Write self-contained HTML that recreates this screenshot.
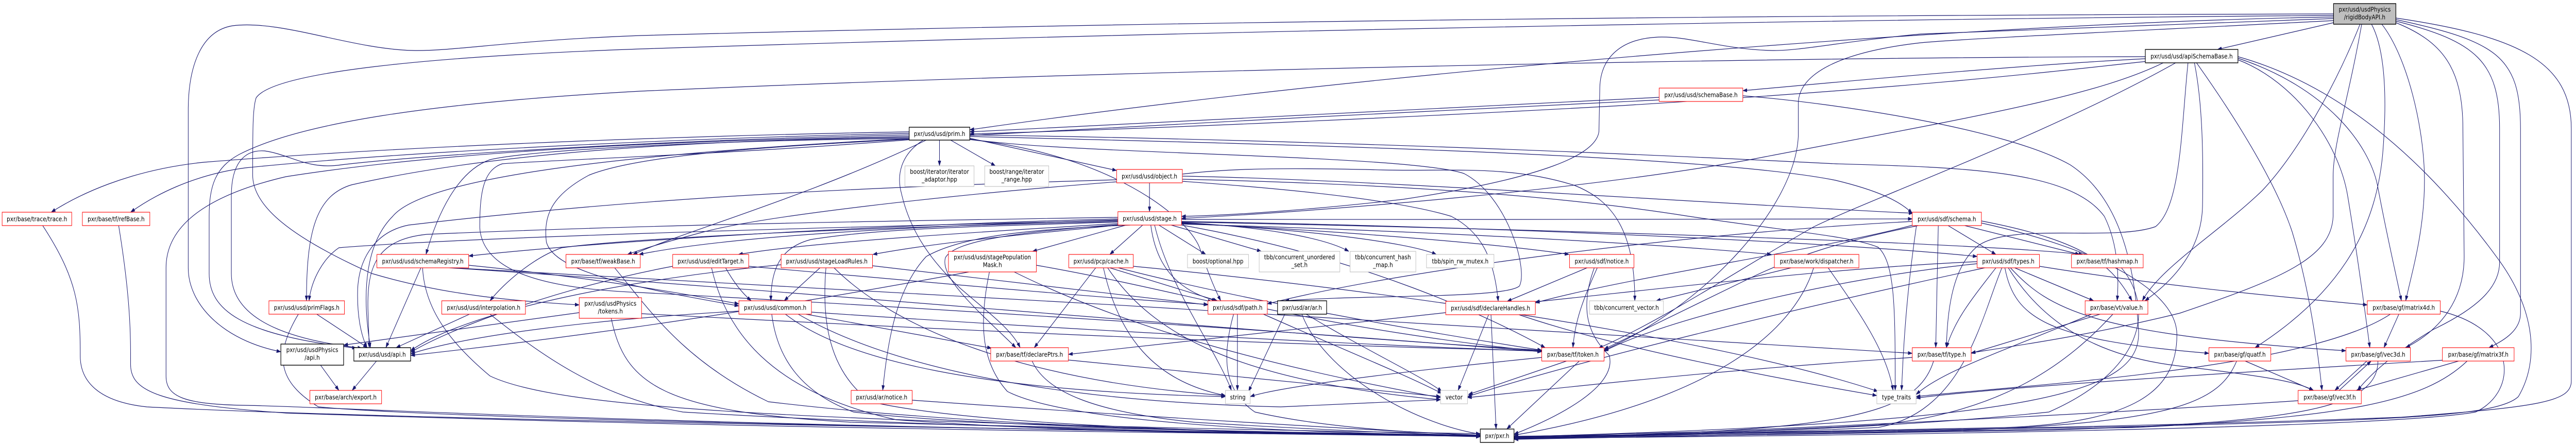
<!DOCTYPE html>
<html><head><meta charset="utf-8"><style>
html,body{margin:0;padding:0;background:#fff;width:100%;height:100%;overflow:hidden;}
svg{display:block;position:absolute;left:0;top:0;width:100vw;height:100vh;overflow:hidden;}
text{font-family:"DejaVu Sans","Liberation Sans",sans-serif;font-size:12.7px;fill:#000;}
</style></head><body>
<svg viewBox="0 0 6035 864" preserveAspectRatio="none" xmlns="http://www.w3.org/2000/svg">
<defs><marker id="a" viewBox="0 0 10 7" refX="10" refY="3.5" markerWidth="10" markerHeight="7" markerUnits="userSpaceOnUse" orient="auto"><path d="M0,0 L10,3.5 L0,7 z" fill="#191970" stroke="#191970" stroke-width="0.5"/></marker></defs>
<rect x="0" y="0" width="6035" height="864" fill="#fff"/>
<g fill="none" stroke="#191970" stroke-width="1.2" marker-end="url(#a)">
<path d="M5467,27 C4500,29 3000,35 1500,69 C1200,78 1060,100 967,98 C820,95 660,38 545,50 C470,60 442,130 441,210 L441,520 C441,590 520,660 658,683"/>
<path d="M5467,30 C4500,36 3000,55 1500,95 C1000,110 640,140 600,190 C592,210 592,250 592,340 C592,400 680,460 871,531 C1050,575 1220,585 1357,592"/>
<path d="M5467,33 C4600,45 3200,140 2272,252"/>
<path d="M5467,36 C5000,50 4650,60 4500,66 C4320,80 4210,100 4148,98 C4030,95 3960,70 3885,72 C3800,75 3750,110 3748,170 L3746,255 C3740,300 3620,345 3287,387 C3100,405 2900,418 2768,420"/>
<path d="M5467,40 C5000,60 4600,75 4500,83 C4320,100 4215,140 4213,200 L4213,265 C4205,400 4000,590 3758,680"/>
<path d="M5467,44 L5195,96"/>
<path d="M5529,47 C5470,170 5380,300 5300,370 C5200,450 5060,520 5019,584"/>
<path d="M5533,47 C5500,200 5466,280 5466,343 L5466,420 C5462,500 5350,540 5107,608 C4900,650 4750,668 4618,685"/>
<path d="M5556,47 C5590,100 5592,200 5582,300 C5567,430 5500,560 5283,675"/>
<path d="M5580,47 C5640,110 5680,250 5680,350 C5680,450 5650,530 5636,584"/>
<path d="M5613,44 C5720,80 5770,130 5770,250 L5773,498 C5773,580 5720,640 5636,675"/>
<path d="M5613,41 C5800,80 5856,120 5856,250 L5856,509 C5856,560 5800,600 5700,640 C5600,690 5550,730 5523,758"/>
<path d="M5613,38 C5850,80 5905,110 5905,250 L5905,608 C5905,640 5870,660 5831,675"/>
<path d="M5613,35 C5900,70 6024,120 6024,250 L6024,740 C6024,780 5950,790 5626,810 C5000,830 4000,843 3547,847"/>
<path d="M5026,110 C4000,112 2500,140 1500,177 C1000,200 700,240 560,300 C505,325 490,360 490,420 L490,531 C490,600 560,650 835,676"/>
<path d="M5026,114 C4700,128 4300,160 4083,176"/>
<path d="M5030,119 C4800,140 4500,169 3800,205 C3300,228 2700,250 2272,260"/>
<path d="M5068,122 C4900,190 4600,230 4100,310 C3700,370 3100,410 2768,424"/>
<path d="M5097,122 C4800,260 4400,380 4250,440 C4100,510 3900,620 3745,676"/>
<path d="M5126,122 C5110,250 5110,400 5050,440 C4950,470 4700,430 4630,480 C4575,520 4562,600 4560,675"/>
<path d="M5141,122 C5160,200 5162,300 5160,400 C5158,480 5100,540 5025,584"/>
<path d="M5146,122 C5230,220 5330,350 5370,450 C5410,560 5430,680 5440,758"/>
<path d="M5243,116 C5380,160 5480,280 5500,380 C5520,480 5540,600 5552,675"/>
<path d="M5243,113 C5450,170 5550,280 5570,360 C5590,450 5610,520 5626,584"/>
<path d="M5243,110 C5500,170 5700,330 5850,500 C5940,600 5950,700 5900,770 C5850,810 5600,815 5000,828 C4500,838 4000,845 3547,848"/>
<path d="M3887,189 C3500,208 3000,224 2272,256"/>
<path d="M3887,194 C3300,218 2500,250 2000,275 C1500,300 1000,340 920,420 C860,470 845,560 868,675"/>
<path d="M4083,186 C4300,200 4700,250 4850,320 C4960,380 5000,500 5010,640 C5020,760 4800,820 3547,848"/>
<path d="M2201,272 L2201,322"/>
<path d="M2227,272 L2332,322"/>
<path d="M2270,268 L2616,331"/>
<path d="M2130,256 C1700,262 1000,280 478,315 C300,330 180,380 120,412"/>
<path d="M2130,259 C1700,266 1000,290 574,326 C450,340 360,380 306,412"/>
<path d="M2130,262 C1600,270 1000,300 800,320 C720,330 680,300 620,293 C570,290 542,320 542,380 L542,531 C542,600 620,655 848,676"/>
<path d="M2130,265 C1600,272 1053,293 670,343 C480,380 389,440 389,520 L389,730 C389,770 430,785 574,787 C800,790 1500,828 3468,846"/>
<path d="M2130,267 C1600,272 1148,298 823,359 C740,380 718,450 718,584"/>
<path d="M2130,269 C1700,272 1250,290 1148,310 C1080,330 1030,400 998,494"/>
<path d="M2170,272 C1900,380 1600,450 1483,494"/>
<path d="M2163,272 C2110,300 2100,340 2112,376 C2130,440 2170,498 2250,560 C2320,610 2370,640 2390,675"/>
<path d="M2132,270 C1800,285 1500,300 1380,340 C1290,380 1273,420 1280,470 C1300,530 1500,560 1731,594"/>
<path d="M2135,271 C1700,300 1300,310 1177,318 C1130,330 1124,380 1124,442 C1130,520 1250,560 1500,568 C2000,590 3000,640 3612,683"/>
<path d="M2272,262 C2800,268 3500,285 4300,318 C4600,325 4850,330 4930,420 C4960,470 4965,530 4960,584"/>
<path d="M2272,265 C3000,280 4000,300 4300,350 C4400,370 4450,390 4480,414"/>
<path d="M2272,270 C2500,300 3300,300 3430,337 C3530,380 3580,520 3560,555 C3530,580 3200,572 3010,584"/>
<path d="M2272,271 C2600,300 2780,420 2810,480 C2830,530 2845,560 2860,584"/>
<path d="M2693,355 L2693,411"/>
<path d="M2616,349 C2000,364 1500,384 957,437 C880,450 842,500 838,560 C836,610 845,650 860,675"/>
<path d="M2616,353 C2200,380 1787,420 1650,450 C1560,470 1510,482 1470,494"/>
<path d="M2770,342 C3200,348 4000,395 4482,414"/>
<path d="M2770,348 C3300,358 3670,382 3957,420 C4200,450 4340,459 4400,480 C4440,510 4440,600 4440,758"/>
<path d="M2770,338 C2850,330 2950,324 3240,330 C3400,333 3536,320 3689,360 C3780,390 3830,450 3830,584"/>
<path d="M2770,352 C2900,360 3240,380 3400,420 C3470,450 3500,500 3510,585"/>
<path d="M2619,434 C2300,450 1900,470 1730,494"/>
<path d="M2622,437 C2400,455 2200,470 2045,494"/>
<path d="M2638,437 L2419,488"/>
<path d="M2677,437 L2600,494"/>
<path d="M2715,437 L2825,494"/>
<path d="M2744,437 L2955,488"/>
<path d="M2768,432 C2950,440 3100,460 3160,488"/>
<path d="M2768,433 C3050,445 3300,470 3365,494"/>
<path d="M2768,434 C3200,450 3550,478 3676,494"/>
<path d="M2768,435 C3400,450 3900,475 4150,494"/>
<path d="M2768,426 C3300,428 4000,424 4480,425"/>
<path d="M2768,430 C3500,440 4300,470 4632,498"/>
<path d="M2768,431 C3600,445 4600,470 4880,494"/>
<path d="M2696,437 C2706,500 2740,560 2849,584"/>
<path d="M2619,431 C2300,440 2074,442 1900,465 C1830,480 1806,520 1806,584"/>
<path d="M2619,436 C2400,450 2240,465 2215,500 C2200,540 2300,610 2380,675"/>
<path d="M2648,437 C2400,445 2250,460 2170,498 C2100,560 2080,660 2068,758"/>
<path d="M2619,428 C2000,440 1100,460 794,481 C760,500 730,540 724,584"/>
<path d="M2619,425 C2000,438 1400,470 1098,497"/>
<path d="M2619,430 C2100,440 1500,460 1316,481 C1250,500 1180,550 1148,584"/>
<path d="M2619,427 C2100,440 1700,460 1497,494"/>
<path d="M2619,422 C2000,430 1500,437 1000,455 C880,465 860,520 862,600 L865,675"/>
<path d="M2705,437 C2740,560 2850,680 2885,758"/>
<path d="M2768,437 C3200,500 3500,620 3620,675"/>
<path d="M4541,437 L4535,675"/>
<path d="M4562,437 L4676,494"/>
<path d="M4598,437 L4872,494"/>
<path d="M4642,429 C4900,470 4950,520 4995,584"/>
<path d="M4642,433 C4900,480 5100,560 5100,650 C5100,760 5000,820 4700,830 C4200,840 3800,847 3547,849"/>
<path d="M4480,430 C4000,450 3300,520 2969,590"/>
<path d="M4500,437 C4300,470 4200,500 4100,540 C3950,600 3850,640 3758,678"/>
<path d="M4490,435 C4300,480 3800,540 3597,588"/>
<path d="M4490,437 C4470,550 4460,650 4455,758"/>
<path d="M4676,520 C4620,580 4580,620 4560,675"/>
<path d="M4690,520 C4640,620 4600,800 4400,830 C4000,845 3700,848 3547,850"/>
<path d="M4697,520 C4720,620 4800,660 5175,686"/>
<path d="M4720,520 L4905,584"/>
<path d="M4778,517 C5100,560 5400,580 5546,592"/>
<path d="M4710,520 C4800,600 4900,650 5496,681"/>
<path d="M4705,520 C4780,620 4900,690 5100,710 C5300,730 5380,740 5420,758"/>
<path d="M4632,512 C4300,540 3900,620 3758,682"/>
<path d="M4650,520 C4200,600 3700,700 3438,770"/>
<path d="M4632,508 C4300,520 3900,560 3597,586"/>
<path d="M4970,520 C5050,600 5020,720 4800,800 C4400,835 3800,848 3547,850"/>
<path d="M4920,610 L4618,686"/>
<path d="M4900,610 C4700,680 4550,720 4489,766"/>
<path d="M4950,610 C4850,700 4700,800 4400,825 C4000,842 3700,848 3547,850"/>
<path d="M5620,610 L5585,675"/>
<path d="M5717,604 C5900,640 5900,760 5800,800 C5600,830 4500,845 3547,851"/>
<path d="M5600,610 C5400,720 4700,750 4489,770"/>
<path d="M5260,701 L5420,758"/>
<path d="M5240,701 C5200,780 5100,820 4600,835 C4000,845 3700,848 3547,851"/>
<path d="M5545,701 L5470,758"/>
<path d="M5571,701 C5570,790 5400,820 4800,835 C4200,845 3700,849 3547,852"/>
<path d="M5480,758 L5555,701"/>
<path d="M5384,778 C4800,810 4000,840 3547,852"/>
<path d="M5760,701 L5520,758"/>
<path d="M5780,701 C5680,780 5500,810 5000,830 C4300,845 3800,850 3547,853"/>
<path d="M5730,699 C5300,720 4700,750 4489,773"/>
<path d="M4530,701 C4500,780 4400,820 4000,838 L3547,848"/>
<path d="M4480,694 C4000,720 3700,750 3438,772"/>
<path d="M3700,701 L3530,833"/>
<path d="M3670,701 L3440,766"/>
<path d="M3612,694 C3300,720 3000,750 2929,770"/>
<path d="M3488,610 L3416,758"/>
<path d="M3493,610 L3505,833"/>
<path d="M3555,610 C3800,680 4200,740 4397,768"/>
<path d="M3387,607 C3000,640 2700,670 2503,688"/>
<path d="M3718,520 L3531,585"/>
<path d="M3742,520 C3710,580 3690,620 3685,675"/>
<path d="M3735,520 C3700,600 3720,650 3770,690 C3790,750 3650,810 3547,843"/>
<path d="M4196,520 L3880,584"/>
<path d="M4249,520 C4200,650 4000,780 3547,845"/>
<path d="M4283,520 C4350,600 4420,680 4435,758"/>
<path d="M3060,610 C3200,680 3330,730 3378,760"/>
<path d="M3050,610 C3100,720 3300,820 3468,843"/>
<path d="M3010,610 L2925,760"/>
<path d="M2899,610 L2899,758"/>
<path d="M2890,610 C2860,700 2870,760 2940,800 C3100,830 3300,840 3468,845"/>
<path d="M2969,600 C3200,640 3450,670 3612,682"/>
<path d="M2960,610 C3150,680 3300,730 3378,764"/>
<path d="M1808,610 C1820,690 1870,760 2000,800 C2300,830 3000,840 3468,845"/>
<path d="M1840,610 C1980,700 2300,760 2871,770"/>
<path d="M1888,610 L2323,676"/>
<path d="M1901,606 C2500,640 3200,670 3612,682"/>
<path d="M1870,610 C2100,720 2500,780 3000,790 L3375,776"/>
<path d="M1731,604 C1400,620 1100,650 962,687"/>
<path d="M2567,520 L2423,675"/>
<path d="M2585,520 C2620,650 2700,740 2871,768"/>
<path d="M2595,520 C2700,650 2900,740 3375,776"/>
<path d="M2600,520 L2852,584"/>
<path d="M2620,520 C2900,580 3300,640 3612,680"/>
<path d="M2655,517 C3200,560 4000,650 4400,760"/>
<path d="M2270,528 C1800,600 1400,650 962,690"/>
<path d="M2318,528 C2295,620 2295,700 2360,760 C2500,820 3000,840 3468,846"/>
<path d="M2428,515 C2600,540 2750,570 2840,586"/>
<path d="M2376,528 C2600,620 2900,700 3375,772"/>
<path d="M1921,520 L1837,584"/>
<path d="M1935,520 C1925,620 1940,720 2040,780 C2300,830 3000,842 3468,847"/>
<path d="M1954,520 C2100,640 2400,740 2871,768"/>
<path d="M2044,516 L2830,592"/>
<path d="M1830,514 C1500,540 1100,600 962,681"/>
<path d="M1667,520 C1700,640 1800,760 2100,815 C2500,840 3000,843 3468,847"/>
<path d="M1754,517 C2200,550 2600,580 2830,591"/>
<path d="M1576,517 C1300,560 1050,640 962,684"/>
<path d="M1700,520 C1720,550 1740,570 1760,584"/>
<path d="M1098,515 C1400,540 1600,570 1731,590"/>
<path d="M986,520 L904,675"/>
<path d="M990,520 C995,600 1053,664 1148,730 C1300,790 1800,820 3468,842"/>
<path d="M1053,520 C1800,560 3000,650 3612,680"/>
<path d="M1060,520 C2000,560 3800,650 4480,686"/>
<path d="M1440,520 C1520,600 1600,700 1800,780 C2300,830 3000,843 3468,847"/>
<path d="M1100,610 L928,675"/>
<path d="M1148,610 C1263,686 1400,770 1600,800 C2200,830 3000,843 3468,847"/>
<path d="M1357,607 L805,670"/>
<path d="M1432,618 C1464,746 1550,800 2000,820 C2600,835 3100,845 3468,848"/>
<path d="M1503,609 C2200,640 3000,670 3612,681"/>
<path d="M742,610 L861,675"/>
<path d="M699,610 C641,691 651,741 746,790 C1000,810 2000,830 3468,847"/>
<path d="M751,709 L794,758"/>
<path d="M882,701 L825,758"/>
<path d="M100,438 C182,542 188,597 188,691 C188,740 230,780 344,790 C800,810 2000,830 3468,845"/>
<path d="M278,438 C306,580 306,650 306,708 C306,760 373,785 670,802 C1500,825 2500,840 3468,846"/>
<path d="M2137,777 C2700,810 3200,835 3468,845"/>
<path d="M2418,701 C2450,760 2560,800 2800,820 C3100,835 3300,842 3468,846"/>
<path d="M2503,699 C2900,730 3200,755 3375,770"/>
</g>
<g stroke-width="1.1">
<rect x="5467" y="7" width="146" height="40" fill="#bfbfbf" stroke="#000" stroke-width="1.4"/>
<rect x="5026" y="96" width="217" height="26" fill="#fff" stroke="#000" stroke-width="1.4"/>
<rect x="3887" y="171" width="196" height="26" fill="#fff" stroke="#f00"/>
<rect x="2130" y="247" width="142" height="25" fill="#fff" stroke="#000" stroke-width="1.4"/>
<rect x="2120" y="322" width="162" height="40" fill="#fff" stroke="#bfbfbf"/>
<rect x="2307" y="322" width="150" height="40" fill="#fff" stroke="#bfbfbf"/>
<rect x="2616" y="329" width="154" height="26" fill="#fff" stroke="#f00"/>
<rect x="2619" y="411" width="149" height="26" fill="#fff" stroke="#f00"/>
<rect x="5" y="412" width="163" height="26" fill="#fff" stroke="#f00"/>
<rect x="193" y="412" width="158" height="26" fill="#fff" stroke="#f00"/>
<rect x="4480" y="412" width="162" height="26" fill="#fff" stroke="#f00"/>
<rect x="883" y="494" width="215" height="26" fill="#fff" stroke="#f00"/>
<rect x="1326" y="494" width="174" height="26" fill="#fff" stroke="#f00"/>
<rect x="1576" y="494" width="178" height="26" fill="#fff" stroke="#f00"/>
<rect x="1830" y="494" width="214" height="26" fill="#fff" stroke="#f00"/>
<rect x="2222" y="488" width="206" height="40" fill="#fff" stroke="#f00"/>
<rect x="2504" y="494" width="151" height="26" fill="#fff" stroke="#f00"/>
<rect x="2782" y="494" width="143" height="26" fill="#fff" stroke="#bfbfbf"/>
<rect x="2950" y="488" width="189" height="40" fill="#fff" stroke="#bfbfbf"/>
<rect x="3163" y="488" width="154" height="40" fill="#fff" stroke="#bfbfbf"/>
<rect x="3342" y="494" width="158" height="26" fill="#fff" stroke="#bfbfbf"/>
<rect x="3677" y="494" width="151" height="26" fill="#fff" stroke="#f00"/>
<rect x="4157" y="494" width="198" height="26" fill="#fff" stroke="#f00"/>
<rect x="4632" y="494" width="146" height="26" fill="#fff" stroke="#f00"/>
<rect x="4853" y="494" width="168" height="26" fill="#fff" stroke="#f00"/>
<rect x="630" y="584" width="177" height="26" fill="#fff" stroke="#f00"/>
<rect x="1035" y="584" width="196" height="26" fill="#fff" stroke="#f00"/>
<rect x="1357" y="578" width="146" height="40" fill="#fff" stroke="#f00"/>
<rect x="1731" y="584" width="170" height="26" fill="#fff" stroke="#f00"/>
<rect x="2830" y="584" width="139" height="26" fill="#fff" stroke="#f00"/>
<rect x="2993" y="584" width="115" height="26" fill="#fff" stroke="#000" stroke-width="1.4"/>
<rect x="3387" y="585" width="210" height="26" fill="#fff" stroke="#f00"/>
<rect x="3724" y="584" width="173" height="26" fill="#fff" stroke="#bfbfbf"/>
<rect x="4885" y="584" width="147" height="26" fill="#fff" stroke="#f00"/>
<rect x="5546" y="584" width="171" height="26" fill="#fff" stroke="#f00"/>
<rect x="658" y="668" width="147" height="41" fill="#fff" stroke="#000" stroke-width="1.4"/>
<rect x="829" y="675" width="133" height="26" fill="#fff" stroke="#000" stroke-width="1.4"/>
<rect x="2321" y="675" width="182" height="26" fill="#fff" stroke="#f00"/>
<rect x="3612" y="675" width="146" height="26" fill="#fff" stroke="#f00"/>
<rect x="4480" y="675" width="138" height="26" fill="#fff" stroke="#f00"/>
<rect x="5175" y="675" width="145" height="26" fill="#fff" stroke="#f00"/>
<rect x="5496" y="675" width="151" height="26" fill="#fff" stroke="#f00"/>
<rect x="5722" y="675" width="168" height="26" fill="#fff" stroke="#f00"/>
<rect x="726" y="758" width="168" height="26" fill="#fff" stroke="#f00"/>
<rect x="1994" y="758" width="143" height="26" fill="#fff" stroke="#f00"/>
<rect x="2871" y="758" width="58" height="26" fill="#fff" stroke="#bfbfbf"/>
<rect x="3375" y="758" width="63" height="26" fill="#fff" stroke="#bfbfbf"/>
<rect x="4397" y="758" width="92" height="26" fill="#fff" stroke="#bfbfbf"/>
<rect x="5384" y="758" width="148" height="26" fill="#fff" stroke="#f00"/>
<rect x="3468" y="833" width="79" height="26" fill="#fff" stroke="#000" stroke-width="1.4"/>
</g>
<g text-anchor="middle">
<text x="5540" y="22.5">pxr/usd/usdPhysics</text><text x="5540" y="37.5">/rigidBodyAPI.h</text>
<text x="5134.5" y="113.5">pxr/usd/usd/apiSchemaBase.h</text>
<text x="3985" y="188.5">pxr/usd/usd/schemaBase.h</text>
<text x="2201" y="264">pxr/usd/usd/prim.h</text>
<text x="2201" y="337.5">boost/iterator/iterator</text><text x="2201" y="352.5">_adaptor.hpp</text>
<text x="2382" y="337.5">boost/range/iterator</text><text x="2382" y="352.5">_range.hpp</text>
<text x="2693" y="346.5">pxr/usd/usd/object.h</text>
<text x="2693.5" y="428.5">pxr/usd/usd/stage.h</text>
<text x="86.5" y="429.5">pxr/base/trace/trace.h</text>
<text x="272" y="429.5">pxr/base/tf/refBase.h</text>
<text x="4561" y="429.5">pxr/usd/sdf/schema.h</text>
<text x="990.5" y="511.5">pxr/usd/usd/schemaRegistry.h</text>
<text x="1413" y="511.5">pxr/base/tf/weakBase.h</text>
<text x="1665" y="511.5">pxr/usd/usd/editTarget.h</text>
<text x="1937" y="511.5">pxr/usd/usd/stageLoadRules.h</text>
<text x="2325" y="503.5">pxr/usd/usd/stagePopulation</text><text x="2325" y="518.5">Mask.h</text>
<text x="2579.5" y="511.5">pxr/usd/pcp/cache.h</text>
<text x="2853.5" y="511.5">boost/optional.hpp</text>
<text x="3044.5" y="503.5">tbb/concurrent_unordered</text><text x="3044.5" y="518.5">_set.h</text>
<text x="3240" y="503.5">tbb/concurrent_hash</text><text x="3240" y="518.5">_map.h</text>
<text x="3421" y="511.5">tbb/spin_rw_mutex.h</text>
<text x="3752.5" y="511.5">pxr/usd/sdf/notice.h</text>
<text x="4256" y="511.5">pxr/base/work/dispatcher.h</text>
<text x="4705" y="511.5">pxr/usd/sdf/types.h</text>
<text x="4937" y="511.5">pxr/base/tf/hashmap.h</text>
<text x="718.5" y="601.5">pxr/usd/usd/primFlags.h</text>
<text x="1133" y="601.5">pxr/usd/usd/interpolation.h</text>
<text x="1430" y="593.5">pxr/usd/usdPhysics</text><text x="1430" y="608.5">/tokens.h</text>
<text x="1816" y="601.5">pxr/usd/usd/common.h</text>
<text x="2899.5" y="601.5">pxr/usd/sdf/path.h</text>
<text x="3050.5" y="601.5">pxr/usd/ar/ar.h</text>
<text x="3492" y="602.5">pxr/usd/sdf/declareHandles.h</text>
<text x="3810.5" y="601.5">tbb/concurrent_vector.h</text>
<text x="4958.5" y="601.5">pxr/base/vt/value.h</text>
<text x="5631.5" y="601.5">pxr/base/gf/matrix4d.h</text>
<text x="731.5" y="683.5">pxr/usd/usdPhysics</text><text x="731.5" y="698.5">/api.h</text>
<text x="895.5" y="692.5">pxr/usd/usd/api.h</text>
<text x="2412" y="692.5">pxr/base/tf/declarePtrs.h</text>
<text x="3685" y="692.5">pxr/base/tf/token.h</text>
<text x="4549" y="692.5">pxr/base/tf/type.h</text>
<text x="5247.5" y="692.5">pxr/base/gf/quatf.h</text>
<text x="5571.5" y="692.5">pxr/base/gf/vec3d.h</text>
<text x="5806" y="692.5">pxr/base/gf/matrix3f.h</text>
<text x="810" y="775.5">pxr/base/arch/export.h</text>
<text x="2065.5" y="775.5">pxr/usd/ar/notice.h</text>
<text x="2900" y="775.5">string</text>
<text x="3406.5" y="775.5">vector</text>
<text x="4443" y="775.5">type_traits</text>
<text x="5458" y="775.5">pxr/base/gf/vec3f.h</text>
<text x="3507.5" y="850.5">pxr/pxr.h</text>
</g>
</svg>
</body></html>
